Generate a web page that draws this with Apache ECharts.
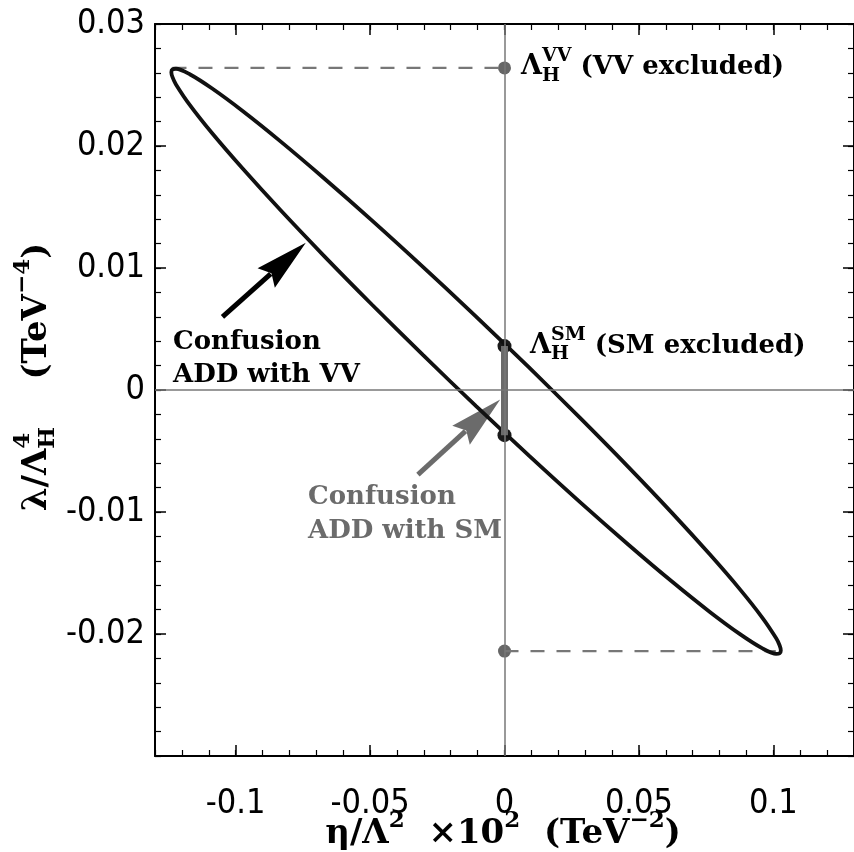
<!DOCTYPE html>
<html>
<head>
<meta charset="utf-8">
<script src="https://cdn.jsdelivr.net/npm/echarts@6/dist/echarts.min.js"></script>
<style>
  html, body { margin: 0; padding: 0; background: #fff; }
  #chart { width: 854px; height: 852px; }
</style>
</head>
<body>
<div id="chart"></div>
<script>
// contour, x = eta/Lambda^2 x10^2, y = lambda/Lambda_H^4
const ellipseX = [-0.01057, -0.03025, -0.04934, -0.06725, -0.08343, -0.09740, -0.10873, -0.11708,
  -0.12220, -0.12349, -0.12392, -0.12349, -0.12220, -0.11708, -0.10873, -0.09740, -0.08343,
  -0.06725, -0.04934, -0.03025, -0.01057, 0.00911, 0.02820, 0.04611, 0.06229, 0.07626, 0.08759,
  0.09594, 0.10106, 0.10235, 0.10278, 0.10235, 0.10106, 0.09594, 0.08759, 0.07626, 0.06229,
  0.04611, 0.02820, 0.00911, -0.01057]
const ellipseY = [0.00602, 0.01008, 0.01391, 0.01738, 0.02040, 0.02287, 0.02471, 0.02588,
  0.02633, 0.02628, 0.02605, 0.02564, 0.02505, 0.02337, 0.02104, 0.01815, 0.01477,
  0.01102, 0.00701, 0.00285, -0.00132, -0.00538, -0.00921, -0.01268, -0.01570, -0.01817, -0.02001,
  -0.02118, -0.02163, -0.02158, -0.02135, -0.02094, -0.02035, -0.01867, -0.01634, -0.01345, -0.01007,
  -0.00632, -0.00231, 0.00185, 0.00602]

// Lambda_H points on the eta = 0 line
const smPoints = [[0, 0.0036], [0, -0.0037]]
const vvPoints = [[0, 0.0264], [0, -0.0214]]
const topDash = [[-0.1235, 0.0264], [0, 0.0264]]
const bottomDash = [[0, -0.0214], [0.1009, -0.0214]]

// arrows: [x from, y from, x to, y to]
const arrowVV = [-0.1049, 0.0060, -0.0739, 0.01207]
const arrowSM = [-0.0322, -0.00693, -0.0016, -0.00078]

const xTicks = [-0.1, -0.05, 0, 0.05, 0.1]
const yTicks = [-0.02, -0.01, 0, 0.01, 0.02, 0.03]

const SERIF = '"DejaVu Serif", "Liberation Serif", serif'
const TICKFONT = '"Liberation Sans Narrow", "DejaVu Sans Condensed", "Liberation Sans", sans-serif'
const GRAY = '#6b6b6b'

const chart = echarts.init(document.getElementById('chart'))

const fmt = v => {
  const r = Math.round(v * 1000) / 1000
  return r === 0 ? '0' : String(r)
}

// lay out text pieces left to right; an array entry is stacked (sub + sup)
const measure = document.createElement('canvas').getContext('2d')
function textRow(pieces, color) {
  let x = 0
  const children = []
  pieces.forEach(p => {
    const stack = Array.isArray(p) ? p : [p]
    let adv = 0
    stack.forEach(s => {
      const font = `bold ${s.size}px ${SERIF}`
      measure.font = font
      adv = Math.max(adv, measure.measureText(s.t).width)
      children.push({
        type: 'text', x: x, y: s.dy || 0,
        style: { text: s.t, font: font, fill: color, align: 'left', verticalAlign: 'middle' }
      })
    })
    x += adv
  })
  return { children, width: x }
}

const vvLabel = textRow([{ t: 'Λ', size: 27 }, [{ t: 'VV', size: 19, dy: -11 }, { t: 'H', size: 19, dy: 9 }],
  { t: ' (VV excluded)', size: 26 }], '#000')
const smLabel = textRow([{ t: 'Λ', size: 27 }, [{ t: 'SM', size: 19, dy: -11 }, { t: 'H', size: 19, dy: 8 }],
  { t: ' (SM excluded)', size: 26 }], '#000')
const xTitle = textRow([{ t: 'η/Λ', size: 34 }, { t: '2', size: 23, dy: -13 }, { t: '  ×10', size: 34 },
  { t: '2', size: 23, dy: -13 }, { t: '  (TeV', size: 34 }, { t: '−2', size: 23, dy: -13 }, { t: ')', size: 34 }], '#000')
const yTitle = textRow([{ t: 'λ/Λ', size: 34 }, [{ t: '4', size: 23, dy: -14 }, { t: 'H', size: 23, dy: 11 }],
  { t: '    (TeV', size: 34 }, { t: '−4', size: 23, dy: -14 }, { t: ')', size: 34 }], '#000')

const plainText = (x, y, t, color) => ({
  type: 'text', x, y,
  style: { text: t, font: `bold 26px ${SERIF}`, fill: color, align: 'left', verticalAlign: 'middle' }
})

const arrowItem = (params, api) => {
  const a = api.coord([api.value(0), api.value(1)])
  const b = api.coord([api.value(2), api.value(3)])
  const dx = b[0] - a[0], dy = b[1] - a[1]
  const len = Math.sqrt(dx * dx + dy * dy)
  const ux = dx / len, uy = dy / len
  const headLen = 53, headW = 13
  const bx = b[0] - ux * headLen, by = b[1] - uy * headLen
  const color = api.visual('color')
  return {
    type: 'group',
    children: [
      { type: 'line', shape: { x1: a[0], y1: a[1], x2: bx + ux * 6, y2: by + uy * 6 },
        style: { stroke: color, lineWidth: 5 } },
      { type: 'polygon', shape: { points: [
          [b[0], b[1]],
          [bx - uy * headW, by + ux * headW],
          [bx + ux * 7, by + uy * 7],
          [bx + uy * headW, by - ux * headW]
        ] }, style: { fill: color } }
    ]
  }
}

const minorX = (pos) => ({
  type: 'value', position: pos, min: -0.13, max: 0.13, interval: 0.01,
  axisLine: { show: true, onZero: false, lineStyle: { color: '#000', width: 2 } },
  axisTick: { show: true, inside: true, length: 6, lineStyle: { color: '#000', width: 1.2 } },
  axisLabel: pos === 'bottom'
    ? { customValues: xTicks, formatter: fmt, color: '#000', fontSize: 34, fontFamily: TICKFONT, margin: 31 }
    : { show: false },
  splitLine: { show: false }
})
const majorX = (pos) => ({
  type: 'value', position: pos, min: -0.13, max: 0.13, interval: 0.01,
  axisLine: { show: false, onZero: false },
  axisTick: { show: true, inside: true, length: 11, customValues: xTicks, lineStyle: { color: '#000', width: 1.5 } },
  axisLabel: { show: false },
  splitLine: { show: false }
})
const minorY = (pos) => ({
  type: 'value', position: pos, min: -0.03, max: 0.03, interval: 0.002,
  axisLine: { show: true, onZero: false, lineStyle: { color: '#000', width: 2 } },
  axisTick: { show: true, inside: true, length: 6, lineStyle: { color: '#000', width: 1.2 } },
  axisLabel: pos === 'left'
    ? { customValues: yTicks, formatter: fmt, color: '#000', fontSize: 34, fontFamily: TICKFONT, margin: 10 }
    : { show: false },
  splitLine: { show: false }
})
const majorY = (pos) => ({
  type: 'value', position: pos, min: -0.03, max: 0.03, interval: 0.002,
  axisLine: { show: false, onZero: false },
  axisTick: { show: true, inside: true, length: 11, customValues: yTicks, lineStyle: { color: '#000', width: 1.5 } },
  axisLabel: { show: false },
  splitLine: { show: false }
})

const option = {
  animation: false,
  backgroundColor: '#fff',
  grid: { left: 155, top: 24, width: 703, height: 732 },
  xAxis: [minorX('bottom'), majorX('bottom'), minorX('top'), majorX('top')],
  yAxis: [minorY('left'), majorY('left'), minorY('right'), majorY('right')],
  series: [
    {
      type: 'line', data: [], silent: true,
      markLine: {
        symbol: 'none', silent: true, label: { show: false },
        lineStyle: { color: '#777', width: 1.5, type: 'solid' },
        data: [{ xAxis: 0 }, { yAxis: 0 }]
      }
    },
    {
      type: 'line', data: topDash, showSymbol: false, silent: true,
      lineStyle: { color: '#777', width: 2.2, type: [14, 12] }
    },
    {
      type: 'line', data: bottomDash, showSymbol: false, silent: true,
      lineStyle: { color: '#777', width: 2.2, type: [14, 12] }
    },
    {
      type: 'line', data: ellipseX.map((x, i) => [x, ellipseY[i]]),
      showSymbol: false, smooth: 0.3, silent: true,
      lineStyle: { color: '#111', width: 3.8 }
    },
    {
      type: 'line', data: smPoints, showSymbol: false, silent: true,
      lineStyle: { color: GRAY, width: 7 }
    },
    {
      type: 'custom', renderItem: arrowItem, silent: true,
      encode: { x: [0, 2], y: [1, 3] },
      data: [{ value: arrowVV, itemStyle: { color: '#000' } }, { value: arrowSM, itemStyle: { color: GRAY } }]
    },
    {
      type: 'scatter', data: vvPoints, symbolSize: 13, silent: true,
      itemStyle: { color: '#666', opacity: 1 }
    },
    {
      type: 'scatter', data: smPoints, symbolSize: 14, silent: true,
      itemStyle: { color: '#1a1a1a', opacity: 1 }
    }
  ],
  graphic: [
    { type: 'group', x: 521, y: 67, children: vvLabel.children },
    { type: 'group', x: 530, y: 346, children: smLabel.children },
    plainText(173, 342, 'Confusion', '#000'),
    plainText(173, 375, 'ADD with VV', '#000'),
    plainText(308, 497, 'Confusion', GRAY),
    plainText(308, 531, 'ADD with SM', GRAY),
    { type: 'group', x: 503 - xTitle.width / 2, y: 834, children: xTitle.children },
    { type: 'group', x: 37, y: 377 + yTitle.width / 2, rotation: Math.PI / 2, children: yTitle.children }
  ]
}

chart.setOption(option)
</script>
</body>
</html>
